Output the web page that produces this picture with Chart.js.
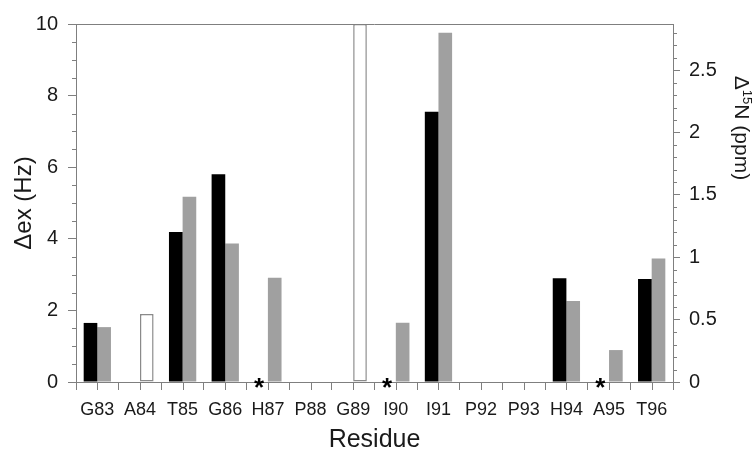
<!DOCTYPE html>
<html>
<head>
<meta charset="utf-8">
<script src="https://cdn.jsdelivr.net/npm/chart.js@4/dist/chart.umd.min.js"></script>
<style>
  body { margin: 0; background: #fff; }
  canvas { display: block; }
</style>
</head>
<body>
<canvas id="chart" width="753" height="454"></canvas>
<script>
// Residues on the x axis
const residues = ['G83', 'A84', 'T85', 'G86', 'H87', 'P88', 'G89', 'I90', 'I91', 'P92', 'P93', 'H94', 'A95', 'T96'];

// Δex (Hz), black bars, left axis
const dexValues = [1.65, null, 4.19, 5.80, null, null, null, null, 7.55, null, null, 2.90, null, 2.88];

// Δ15N (ppm), grey bars, right axis
const n15Values = [0.44, null, 1.485, 1.11, 0.836, null, null, 0.475, 2.80, null, null, 0.65, 0.256, 0.99];

// open bars (Hz), left axis
const openValues = [null, 1.9, null, null, null, null, 10, null, null, null, null, null, null, null];

// residues marked with an asterisk
const starred = ['H87', 'I90', 'A95'];

const leftTicks = [0, 2, 4, 6, 8, 10];
const rightTicks = [0, 0.5, 1, 1.5, 2, 2.5];

const FONT = 'Arial, "Liberation Sans", sans-serif';
const axisColor = '#7f7f7f';
const textColor = '#1a1a1a';
const catPct = 0.64;

// Extra marks: top frame, minor ticks, centre ticks, asterisks, right title
const extrasPlugin = {
    id: 'extras',
    afterDraw(chart) {
        const { ctx, chartArea, scales } = chart;
        const x = scales.x, y = scales.y, y1 = scales.y1;
        const line = (x1, yA, x2, yB) => {
            ctx.beginPath();
            ctx.moveTo(x1, yA);
            ctx.lineTo(x2, yB);
            ctx.stroke();
        };
        ctx.save();
        ctx.strokeStyle = axisColor;
        ctx.lineWidth = 1;

        // top frame line
        line(chartArea.left, Math.round(chartArea.top) + 0.5, chartArea.right, Math.round(chartArea.top) + 0.5);

        // minor ticks left (every 0.5)
        for (let i = 0; i <= 20; i++) {
            if (i % 4 === 0) continue;
            const py = Math.round(y.getPixelForValue(i / 2)) + 0.5;
            line(chartArea.left - 4, py, chartArea.left, py);
        }
        // minor ticks right (every 0.1)
        for (let i = 0; i <= 28; i++) {
            if (i % 5 === 0) continue;
            const py = Math.round(y1.getPixelForValue(i / 10)) + 0.5;
            line(chartArea.right, py, chartArea.right + 4, py);
        }
        // ticks at category centres
        residues.forEach((r, i) => {
            const px = Math.round(x.getPixelForValue(i)) + 0.5;
            line(px, chartArea.bottom, px, chartArea.bottom + 8);
        });

        // asterisks on the black bar slot
        const step = x.getPixelForValue(1) - x.getPixelForValue(0);
        ctx.fillStyle = '#000';
        ctx.font = 'bold 26px ' + FONT;
        ctx.textAlign = 'center';
        ctx.textBaseline = 'alphabetic';
        starred.forEach(name => {
            const i = residues.indexOf(name);
            const px = x.getPixelForValue(i) - step * catPct / 4 - 2;
            ctx.fillText('*', px, y.getPixelForValue(0) + 14);
        });

        // right axis title, Δ15N (ppm), rotated clockwise
        ctx.translate(741, 128);
        ctx.rotate(Math.PI / 2);
        ctx.fillStyle = textColor;
        ctx.textBaseline = 'middle';
        ctx.textAlign = 'left';
        const big = '21px ' + FONT, small = '13px ' + FONT;
        ctx.font = big;
        const wD = ctx.measureText('\u0394').width;
        const wRest = ctx.measureText('N (ppm)').width;
        ctx.font = small;
        const wSup = ctx.measureText('15').width;
        let cx = -(wD + wSup + wRest) / 2;
        ctx.font = big;
        ctx.fillText('\u0394', cx, 0);
        cx += wD;
        ctx.font = small;
        ctx.fillText('15', cx, -6);
        cx += wSup;
        ctx.font = big;
        ctx.fillText('N (ppm)', cx, 0);
        ctx.restore();
    }
};

new Chart(document.getElementById('chart'), {
    type: 'bar',
    data: {
        labels: residues,
        datasets: [
            {
                label: 'Δex',
                data: dexValues,
                yAxisID: 'y',
                stack: 'a',
                backgroundColor: '#000000',
                borderWidth: 0
            },
            {
                label: 'Δ15N',
                data: n15Values,
                yAxisID: 'y1',
                stack: 'b',
                backgroundColor: '#a0a0a0',
                borderWidth: 0
            },
            {
                label: 'open',
                data: openValues,
                yAxisID: 'y',
                stack: 'b',
                backgroundColor: '#ffffff',
                borderColor: '#8a8a8a',
                borderWidth: 1.5,
                borderSkipped: false
            }
        ]
    },
    options: {
        responsive: false,
        animation: false,
        categoryPercentage: catPct,
        barPercentage: 1,
        layout: { padding: { top: 24 } },
        plugins: {
            legend: { display: false },
            tooltip: { enabled: false }
        },
        scales: {
            x: {
                stacked: true,
                offset: true,
                afterFit: s => { s.height = 72; },
                grid: {
                    offset: true,
                    drawOnChartArea: false,
                    tickLength: 8,
                    tickColor: axisColor
                },
                border: { color: axisColor, width: 1 },
                ticks: {
                    color: textColor,
                    padding: 9,
                    maxRotation: 0,
                    font: { family: FONT, size: 18 }
                },
                title: {
                    display: true,
                    text: 'Residue',
                    color: textColor,
                    padding: { top: 0, bottom: -1 },
                    font: { family: FONT, size: 25 }
                }
            },
            y: {
                position: 'left',
                stacked: false,
                min: 0,
                max: 10,
                afterFit: s => { s.width = 76; },
                afterBuildTicks: s => { s.ticks = leftTicks.map(v => ({ value: v })); },
                grid: {
                    drawOnChartArea: false,
                    tickLength: 8,
                    tickColor: axisColor
                },
                border: { color: axisColor, width: 1 },
                ticks: {
                    color: textColor,
                    padding: 10,
                    font: { family: FONT, size: 20 }
                },
                title: {
                    display: true,
                    text: 'Δex (Hz)',
                    color: textColor,
                    padding: { top: 10, bottom: 0 },
                    font: { family: FONT, size: 24 }
                }
            },
            y1: {
                position: 'right',
                stacked: false,
                min: 0,
                max: 2.87,
                afterFit: s => { s.width = 80; },
                afterBuildTicks: s => { s.ticks = rightTicks.map(v => ({ value: v })); },
                grid: {
                    drawOnChartArea: false,
                    tickLength: 7,
                    tickColor: axisColor
                },
                border: { color: axisColor, width: 1 },
                ticks: {
                    color: textColor,
                    padding: 9,
                    font: { family: FONT, size: 20 },
                    callback: v => String(v)
                }
            }
        }
    },
    plugins: [extrasPlugin]
});
</script>
</body>
</html>
